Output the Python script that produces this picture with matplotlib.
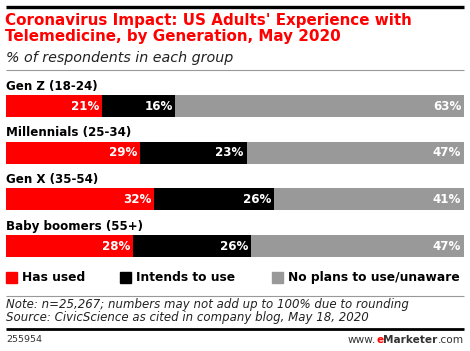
import matplotlib
matplotlib.use("Agg")
import matplotlib.pyplot as plt
from matplotlib.patches import Rectangle
from matplotlib.lines import Line2D

# ---------------------------------------------------------------------------
# Data
# ---------------------------------------------------------------------------
groups = ["Gen Z (18-24)", "Millennials (25-34)", "Gen X (35-54)", "Baby boomers (55+)"]
has_used = [21, 29, 32, 28]
intends = [16, 23, 26, 26]
no_plans = [63, 47, 41, 47]
series_names = ["Has used", "Intends to use", "No plans to use/unaware"]
colors = ["#ff0000", "#000000", "#999999"]

title = "Coronavirus Impact: US Adults' Experience with\nTelemedicine, by Generation, May 2020"
subtitle = "% of respondents in each group"
note = ("Note: n=25,267; numbers may not add up to 100% due to rounding\n"
        "Source: CivicScience as cited in company blog, May 18, 2020")
chart_id = "255954"

W, H = 470, 351
FONT = "DejaVu Sans"


def fx(x):
    return x / W


def fy(y):
    return 1 - y / H


fig = plt.figure(figsize=(W / 100, H / 100), dpi=100)
fig.patch.set_facecolor("white")


def hline(y, lw, color):
    fig.add_artist(Line2D([fx(6), fx(464)], [fy(y), fy(y)], lw=lw, color=color,
                          transform=fig.transFigure, solid_capstyle="butt"))


# -- Header ------------------------------------------------------------------
hline(7, 2.4, "black")
fig.text(fx(5), fy(13), title, color="#ff0000", fontsize=10.9, fontweight="bold",
         family=FONT, ha="left", va="top", linespacing=1.1)
fig.text(fx(6), fy(58), subtitle, fontsize=10.3, style="italic", family=FONT,
         ha="left", va="center", color="#222222")
hline(70, 0.8, "#999999")

# -- Bars ----------------------------------------------------------------------
bar_top, bar_bottom = 95, 257
ax = fig.add_axes([fx(6), fy(bar_bottom), fx(458), (bar_bottom - bar_top) / H])
n = len(groups)
spacing_px = (bar_bottom - bar_top - 22) / (n - 1)
bh = 22 / spacing_px
ax.set_xlim(0, 100)
ax.set_ylim(n - 1 + bh / 2, -bh / 2)
ax.axis("off")

rows = list(zip(has_used, intends, no_plans))
for i, row in enumerate(rows):
    total = sum(row)
    left = 0.0
    for val, col in zip(row, colors):
        w = val / total * 100
        ax.barh(i, w, left=left, height=bh, color=col, edgecolor="none")
        ax.annotate(f"{val}%", (left + w, i), xytext=(-2, 0),
                    textcoords="offset points", ha="right", va="center",
                    color="white", fontsize=8.6, fontweight="bold", family=FONT)
        left += w
    ax.text(0, i - bh / 2 - 0.05, groups[i], ha="left", va="bottom",
            fontsize=8.6, fontweight="bold", family=FONT, clip_on=False)

# -- Legend ------------------------------------------------------------------
leg_x = [6, 120, 272]
for x, name, col in zip(leg_x, series_names, colors):
    fig.add_artist(Rectangle((fx(x), fy(283)), fx(11), 11 / H, color=col,
                             transform=fig.transFigure))
    fig.text(fx(x + 16), fy(277.5), name, fontsize=8.8, fontweight="bold",
             family=FONT, ha="left", va="center")

# -- Footer ------------------------------------------------------------------
hline(296, 0.8, "#999999")
fig.text(fx(6), fy(298), note, fontsize=8.5, style="italic", family=FONT,
         ha="left", va="top", linespacing=1.0, color="#222222")
hline(329, 2.0, "black")
fig.text(fx(6), fy(340), chart_id, fontsize=6.8, family=FONT, ha="left",
         va="center", color="#333333")

# www.eMarketer.com assembled right to left
renderer = fig.canvas.get_renderer()
parts = [("www.", "normal", "#333333"), ("e", "bold", "#ff0000"),
         ("Marketer", "bold", "#333333"), (".com", "normal", "#333333")]
right = 464
for txt, weight, col in reversed(parts):
    t = fig.text(fx(right), fy(340), txt, fontsize=7.6, fontweight=weight,
                 family=FONT, ha="right", va="center", color=col)
    right -= t.get_window_extent(renderer).width

fig.savefig("out.png", dpi=100)
